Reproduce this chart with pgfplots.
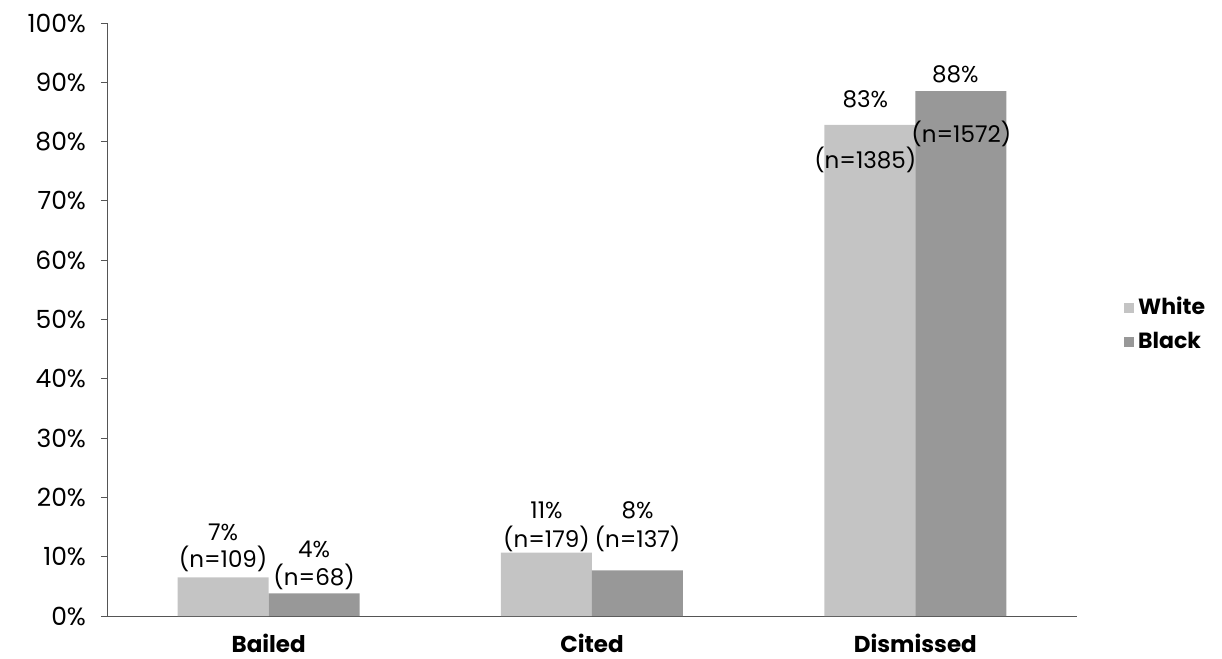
\documentclass[border=0pt]{standalone}
\usepackage{fontspec}
\setmainfont{Poppins}
\usepackage{pgfplots}
\pgfplotsset{compat=1.18}
\usepackage{pgfplotstable}

\definecolor{whitebar}{HTML}{C4C4C4}
\definecolor{blackbar}{HTML}{989898}
\definecolor{axisgray}{HTML}{555555}

% share of each outcome (percent of all cases for the group)
\pgfplotstableread{
x  white black
0  6.5   3.8
1  10.7  7.7
2  82.8  88.5
}\outcomes

\begin{document}
\begin{tikzpicture}
\useasboundingbox (-53.5pt,-21.5pt) rectangle (557.5pt,308pt);
\begin{axis}[
  scale only axis,
  width=485pt, height=296.5pt,
  ybar=0pt, bar width=45.5pt,
  xmin=-0.5, xmax=2.5,
  ymin=0, ymax=100,
  axis x line=bottom, axis y line=left,
  axis line style={-, axisgray, thin},
  xtick={0,1,2},
  xticklabels={\textbf{Bailed},\textbf{Cited},\textbf{Dismissed}},
  x tick style={draw=none},
  minor xtick={0.5,1.5,2.5},
  minor x tick style={axisgray, thin},
  minor tick length=4pt,
  ytick={0,10,...,100},
  yticklabel={\pgfmathprintnumber{\tick}\%},
  y tick style={axisgray, thin},
  major tick length=3pt,
  tick align=outside,
  /pgf/number format/assume math mode=true,
  tick label style={font=\fontsize{12.5}{14}\selectfont},
  xticklabel style={font=\fontsize{11.5}{14}\selectfont, yshift=-2.5pt},
  yticklabel style={xshift=-4pt},
  legend style={draw=none, fill=none, at={(rel axis cs:1.042,0.492)}, anchor=west,
    font=\fontsize{11}{14}\selectfont\bfseries, row sep=3pt},
  legend cell align=left,
  legend image code/.code={\fill[#1] (0pt,-2.5pt) rectangle (5pt,2.5pt);},
  clip=false,
]
\addplot[fill=whitebar, draw=none] table[x=x, y=white] {\outcomes};
\addlegendentry{White}
\addplot[fill=blackbar, draw=none] table[x=x, y=black] {\outcomes};
\addlegendentry{Black}

\begin{scope}[every node/.style={anchor=base, inner sep=0pt, font=\fontsize{11.5}{14}\selectfont}]
\node[xshift=-22.75pt] at (axis cs:0,12.8) {7\%};
\node[xshift=-22.75pt] at (axis cs:0,8.1) {(n=109)};
\node[xshift=22.75pt] at (axis cs:0,9.9) {4\%};
\node[xshift=22.75pt] at (axis cs:0,5.1) {(n=68)};
\node[xshift=-22.75pt] at (axis cs:1,16.5) {11\%};
\node[xshift=-22.75pt] at (axis cs:1,11.5) {(n=179)};
\node[xshift=22.75pt] at (axis cs:1,16.5) {8\%};
\node[xshift=22.75pt] at (axis cs:1,11.5) {(n=137)};
\node[xshift=-25pt] at (axis cs:2,85.8) {83\%};
\node[xshift=-25pt] at (axis cs:2,75.5) {(n=1385)};
\node[xshift=20pt] at (axis cs:2,89.9) {88\%};
\node[xshift=23pt] at (axis cs:2,79.8) {(n=1572)};
\end{scope}
\end{axis}
\end{tikzpicture}
\end{document}
